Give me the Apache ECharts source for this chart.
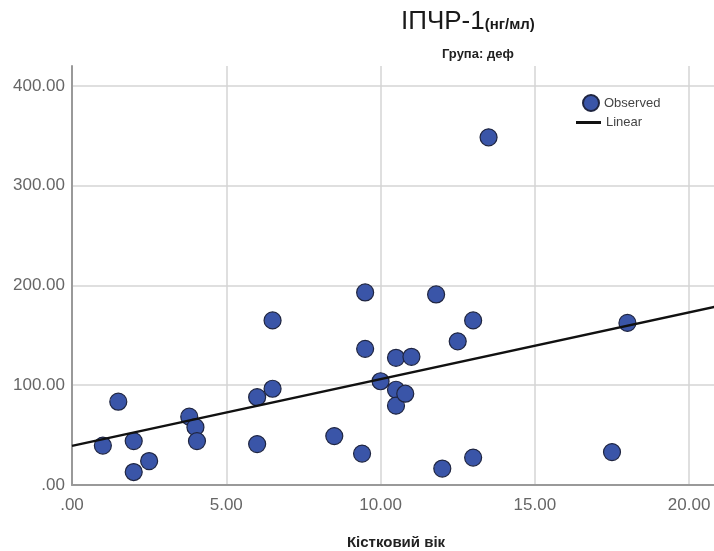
<!DOCTYPE html>
<html>
<head>
    <meta charset="utf-8">
    <title>ІПЧР-1</title>
    <script src="https://cdn.jsdelivr.net/npm/echarts@6/dist/echarts.min.js"></script>
    <style>
        html, body { margin: 0; padding: 0; background: #fff; }
        #main { width: 714px; height: 551px; }
    </style>
</head>
<body>
    <div id="main"></div>
    <script type="text/javascript">
        // bone age (x) and IGFBP value (y)
        var boneAge = [1.0, 1.5, 2.0, 2.0, 2.5, 3.8, 4.0, 4.05, 6.0, 6.0,
                       6.5, 6.5, 8.5, 9.4, 9.5, 9.5, 10.0, 10.5, 10.5, 10.5,
                       10.8, 11.0, 11.8, 12.0, 12.5, 13.0, 13.0, 13.5, 17.5, 18.0];
        var igfbp = [39.5, 83.5, 44, 13, 24, 68.5, 58, 44, 88, 41,
                     96.5, 165, 49, 31.5, 193, 136.5, 104, 127.5, 95.5, 79.5,
                     91.5, 128.5, 191, 16.5, 144, 165, 27.5, 348.5, 33, 162.5];

        // fitted line end points as drawn
        var fitX = [0, 21];
        var fitY = [39.2, 179.7];

        var xTicks = [0, 5, 10, 15, 20];
        var yTicks = [0, 100, 200, 300, 400];

        var observed = boneAge.map(function (v, i) { return [v, igfbp[i]]; });
        var linear = fitX.map(function (v, i) { return [v, fitY[i]]; });

        function fmt(v) {
            var s = v.toFixed(2);
            return s.indexOf('0.') === 0 ? s.slice(1) : s;
        }

        var myChart = echarts.init(document.getElementById('main'));

        var option = {
            backgroundColor: '#fff',
            animation: false,
            title: [{
                text: '{a|ІПЧР-1}{b|(нг/мл)}',
                left: 396,
                top: 4,
                textStyle: {
                    rich: {
                        a: { fontFamily: 'Liberation Sans', fontSize: 26, fontWeight: 'normal', color: '#1a1a1a' },
                        b: { fontFamily: 'Liberation Sans', fontSize: 15, fontWeight: 'bold', color: '#1a1a1a', padding: [6, 0, 0, 0] }
                    }
                }
            }, {
                text: 'Група: деф',
                left: 437,
                top: 43,
                textStyle: { fontFamily: 'Liberation Sans', fontSize: 13, fontWeight: 'bold', color: '#222' }
            }],
            legend: [{
                data: [{ name: 'Observed', icon: 'circle' }],
                left: 582,
                top: 94,
                padding: 0,
                itemWidth: 16,
                itemHeight: 16,
                textStyle: { fontFamily: 'Liberation Sans', fontSize: 13, color: '#444' }
            }, {
                data: [{ name: 'Linear', icon: 'rect' }],
                left: 576,
                top: 116,
                padding: 0,
                itemWidth: 25,
                itemHeight: 3,
                textStyle: { fontFamily: 'Liberation Sans', fontSize: 13, color: '#444' }
            }],
            grid: { left: 72, right: -6, top: 66, bottom: 66, containLabel: false, outerBoundsMode: 'none' },
            xAxis: {
                type: 'value',
                min: xTicks[0],
                max: 21,
                interval: 5,
                name: 'Кістковий вік',
                nameLocation: 'middle',
                nameGap: 50,
                nameTextStyle: { fontFamily: 'Liberation Sans', fontSize: 15, fontWeight: 'bold', color: '#222' },
                axisLine: { lineStyle: { color: '#999', width: 2 } },
                axisTick: { show: false },
                axisLabel: {
                    formatter: fmt,
                    showMaxLabel: false,
                    margin: 12,
                    fontFamily: 'Liberation Sans',
                    fontSize: 17,
                    color: '#666'
                },
                splitLine: { show: true, showMaxLine: false, lineStyle: { color: '#d4d4d4', width: 1.5 } }
            },
            yAxis: {
                type: 'value',
                min: yTicks[0],
                max: 420,
                interval: 100,
                axisLine: { show: true, lineStyle: { color: '#999', width: 2 } },
                axisTick: { show: false },
                axisLabel: {
                    formatter: fmt,
                    showMaxLabel: false,
                    margin: 7,
                    padding: [6, 0, 0, 0],
                    fontFamily: 'Liberation Sans',
                    fontSize: 17,
                    color: '#666'
                },
                splitLine: { show: true, showMaxLine: false, lineStyle: { color: '#d4d4d4', width: 1.5 } }
            },
            series: [{
                name: 'Observed',
                type: 'scatter',
                data: observed,
                symbolSize: 17,
                itemStyle: { color: '#3a55a8', borderColor: '#1f2540', borderWidth: 1.2, opacity: 1 },
                z: 3
            }, {
                name: 'Linear',
                type: 'line',
                data: linear,
                showSymbol: false,
                lineStyle: { color: '#111', width: 2.5 },
                itemStyle: { color: '#111' },
                z: 4
            }]
        };

        myChart.setOption(option);
    </script>
</body>
</html>
